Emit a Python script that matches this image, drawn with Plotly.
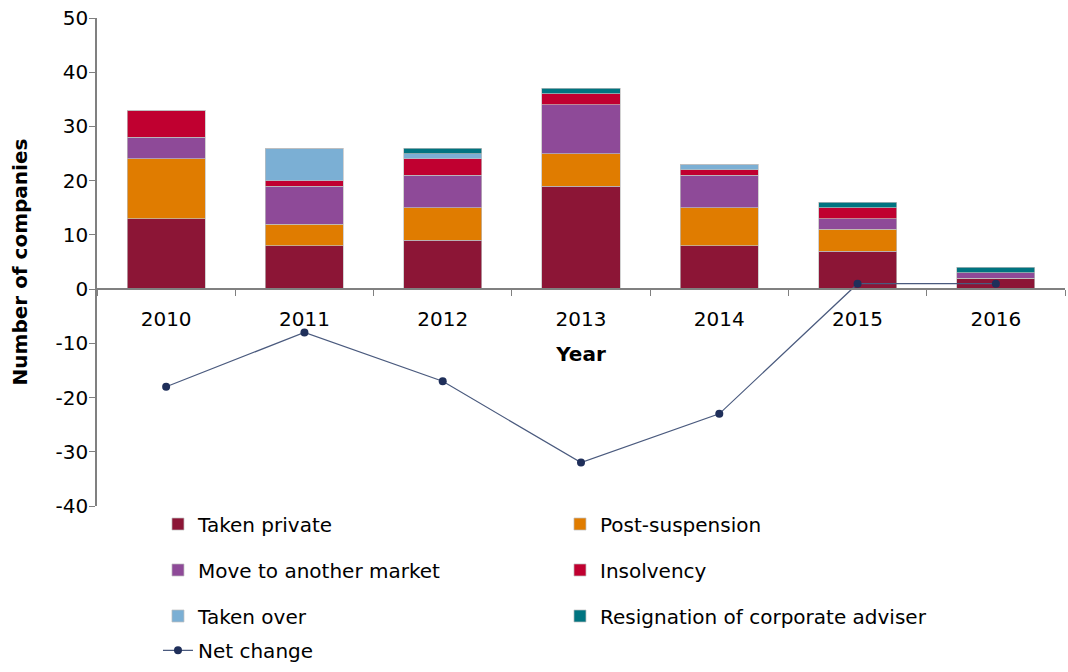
import plotly.graph_objects as go

years = ["2010", "2011", "2012", "2013", "2014", "2015", "2016"]
taken_private = [13, 8, 9, 19, 8, 7, 2]
post_suspension = [11, 4, 6, 6, 7, 4, 0]
move_market = [4, 7, 6, 9, 6, 2, 1]
insolvency = [5, 1, 3, 2, 1, 2, 0]
taken_over = [0, 6, 1, 0, 1, 0, 0]
resignation = [0, 0, 1, 1, 0, 1, 1]
net_change = [-18, -8, -17, -32, -23, 1, 1]

y_tick_vals = [-40, -30, -20, -10, 0, 10, 20, 30, 40, 50]
y_tick_labels = ["-40", "-30", "-20", "-10", "0", "10", "20", "30", "40", "50"]

series = [
    ("Taken private", taken_private, "#8C1536", "legend"),
    ("Post-suspension", post_suspension, "#E07C00", "legend"),
    ("Move to another market", move_market, "#8E4A98", "legend2"),
    ("Insolvency", insolvency, "#C00030", "legend2"),
    ("Taken over", taken_over, "#7BAFD4", "legend3"),
    ("Resignation of corporate adviser", resignation, "#007480", "legend3"),
]

FONT = "DejaVu Sans"
FS = 20
fig = go.Figure()
for name, vals, color, lg in series:
    fig.add_trace(go.Bar(
        x=years, y=vals, name=name, marker_color=color,
        marker_line=dict(color="#BFBFBF", width=0.7), legend=lg,
    ))

fig.add_trace(go.Scatter(
    x=years, y=net_change, name="Net change", mode="lines+markers",
    line=dict(color="#4A5A7E", width=1.2),
    marker=dict(color="#1F2F5A", size=8), legend="legend4",
))

leg_common = dict(orientation="h", x=0.063, xanchor="left",
                  font=dict(family=FONT, size=FS, color="#000"),
                  entrywidth=357, entrywidthmode="pixels",
                  bgcolor="rgba(0,0,0,0)", traceorder="normal")

fig.update_layout(
    width=1068, height=672,
    margin=dict(l=97, r=3, t=18, b=165),
    plot_bgcolor="white", paper_bgcolor="white",
    barmode="stack", bargap=0.435,
    font=dict(family=FONT, size=FS, color="#000"),
    legend=dict(y=-0.0348, yanchor="middle", **leg_common),
    legend2=dict(y=-0.1288, yanchor="middle", **leg_common),
    legend3=dict(y=-0.2229, yanchor="middle", **leg_common),
    legend4=dict(y=-0.333, yanchor="bottom", **leg_common),
    xaxis=dict(
        type="category", range=[-0.5, 6.5],
        anchor="free", position=40/90, automargin=False,
        showline=True, linecolor="#808080", linewidth=1.5,
        ticks="outside", tickson="boundaries", ticklen=6, tickcolor="#808080",
        ticklabelstandoff=12,
        tickfont=dict(family=FONT, size=FS, color="#000"),
        title=dict(text="<b>Year</b>", font=dict(family=FONT, size=FS), standoff=16),
        showgrid=False, zeroline=False,
    ),
    yaxis=dict(
        range=[-40, 50], tickmode="array", tickvals=y_tick_vals, ticktext=y_tick_labels,
        automargin=False,
        showline=True, linecolor="#808080", linewidth=1.5,
        ticks="outside", ticklen=6, tickcolor="#808080",
        ticklabelstandoff=-3,
        tickfont=dict(family=FONT, size=FS, color="#000"),
        title=dict(text="<b>Number of companies</b>", font=dict(family=FONT, size=FS), standoff=23),
        showgrid=False, zeroline=False,
    ),
)

fig.write_html("out.html", config={"displayModeBar": False},
               post_script="document.body.style.margin='0';")
